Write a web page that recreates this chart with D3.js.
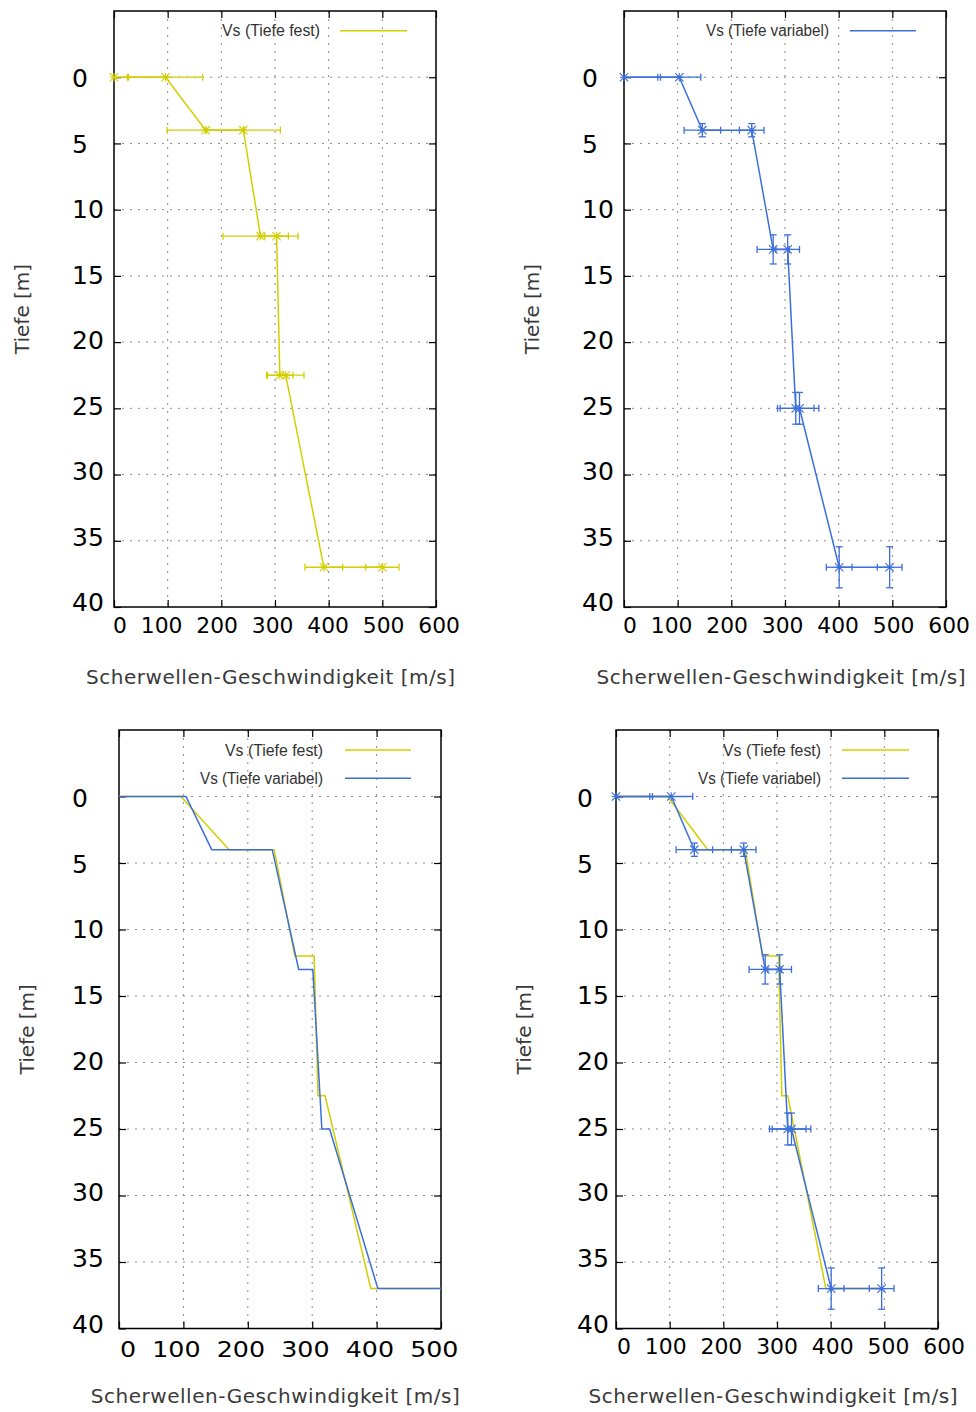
<!DOCTYPE html>
<html><head><meta charset="utf-8">
<script src="https://cdn.jsdelivr.net/npm/d3@7"></script>
<style>body{margin:0;background:#fff}svg text{white-space:pre}</style>
</head><body><svg id="c" width="976" height="1412" xmlns="http://www.w3.org/2000/svg"></svg>
<script>
// ---------- data ----------
const depthTicks = [0,5,10,15,20,25,30,35,40];
const xTicks600 = [0,100,200,300,400,500,600];
const xTicks500 = [0,100,200,300,400,500];
const labelFest = "Vs (Tiefe fest)";
const labelVar = "Vs (Tiefe variabel)";
const yTitle = "Tiefe [m]";
const xTitle = "Scherwellen-Geschwindigkeit [m/s]";

// Vs (Tiefe fest): depth [m], Vs [m/s], Vs error [m/s]
const festDepth = [0,0,4,4,12,12,22.5,22.5,37,37];
const festVs    = [0,96,171,241,273,303,309,320,391,500];
const festVsErr = [25,69,72,69,70,22,24.5,34,35,31];

// Vs (Tiefe variabel): depth, depth error, Vs, Vs error
const varDepth    = [0,0,4,4,13,13,25,25,37,37];
const varDepthErr = [0,0,0.5,0.5,1.1,1.1,1.2,1.2,1.55,1.55];
const varVs       = [0,103,146,238,278,305,320,327,401,495];
const varVsErr    = [68,40,34,23,30,22,34,36,24,23];

// profile of Vs (Tiefe variabel) shown in the lower-left panel
const varProfileDepth = [0,0,4,4,13,13,25,25,37,37];
const varProfileVs    = [0,104,144,238,279,301,315,327,402,500];

const YEL = "#d2cf00", BLU = "#3d6fdb";

const fest = festVs.map((v,i)=>({v, d:festDepth[i], ev:festVsErr[i], ed:0}));
const vari = varVs.map((v,i)=>({v, d:varDepth[i], ev:varVsErr[i], ed:varDepthErr[i]}));
const variProfile = varProfileVs.map((v,i)=>({v, d:varProfileDepth[i]}));

// ---------- layout ----------
const panels = [
  {l:114,r:436,t:11,b:607,ticks:xTicks600, xl0:113,xl1:460,xlb:633.3, ylx:72, ytx:22, xtc:270.5, xtb:684,
   legEnd:320, legL0:340, legL1:407, legY:30.7,
   series:[{data:fest,color:YEL,label:labelFest,err:"x"}]},
  {l:624,r:946,t:11,b:607,ticks:xTicks600, xl0:623,xl1:970,xlb:633.3, ylx:582, ytx:532, xtc:781, xtb:684,
   legEnd:829, legL0:850, legL1:916, legY:30.7,
   series:[{data:vari,color:BLU,label:labelVar,err:"xy"}]},
  {l:119,r:441,t:730,b:1328.5,ticks:xTicks500, xl0:120,xl1:458.5,xlb:1356.7, ylx:72, ytx:27, xtc:275.3, xtb:1403,
   legEnd:323, legL0:345, legL1:411, legY:750,
   series:[{data:fest,color:YEL,label:labelFest,err:null},{data:variProfile,color:BLU,label:labelVar,err:null}]},
  {l:616,r:938,t:730,b:1328.5,ticks:xTicks600, xl0:617,xl1:965,xlb:1353.5, ylx:577, ytx:524, xtc:773, xtb:1403,
   legEnd:821, legL0:842, legL1:909, legY:750,
   series:[{data:fest,color:YEL,label:labelFest,err:null},{data:vari,color:BLU,label:labelVar,err:"xy"}]}
];

const svg = d3.select("#c");

panels.forEach(p=>{
  const xmax = p.ticks[p.ticks.length-1];
  const x = d3.scaleLinear().domain([0,xmax]).range([p.l,p.r]);
  const y = d3.scaleLinear().domain([-5,40]).range([p.t,p.b]);
  // tick labels sit in a slightly compressed column, as in the reference
  const yLab = d3.scaleLinear().domain([0,40]).range([y(0)+1, y(40)-5]);
  const g = svg.append("g");

  // grid
  g.selectAll(null).data(p.ticks.filter(v=>v>0 && v<xmax)).enter().append("line")
    .attr("x1",d=>x(d)).attr("x2",d=>x(d)).attr("y1",p.t).attr("y2",p.b)
    .attr("stroke","#8c8c8c").attr("stroke-width",1).attr("stroke-dasharray","2,6");
  g.selectAll(null).data(depthTicks.filter(v=>v<40)).enter().append("line")
    .attr("y1",d=>y(d)).attr("y2",d=>y(d)).attr("x1",p.l).attr("x2",p.r)
    .attr("stroke","#8c8c8c").attr("stroke-width",1).attr("stroke-dasharray","2,6");

  // ticks (mirrored, inward)
  const tk = 7;
  const axes = [
    [d3.axisBottom(x).tickValues(p.ticks), `translate(0,${p.b})`],
    [d3.axisTop(x).tickValues(p.ticks), `translate(0,${p.t})`],
    [d3.axisLeft(y).tickValues(depthTicks), `translate(${p.l},0)`],
    [d3.axisRight(y).tickValues(depthTicks), `translate(${p.r},0)`]
  ];
  axes.forEach(([ax,tr])=>{
    const a = g.append("g").attr("transform",tr).call(ax.tickSize(-tk).tickFormat(""));
    a.select(".domain").remove();
    a.selectAll("line").attr("stroke","#000").attr("stroke-width",1.2);
  });

  // y tick labels
  g.selectAll(null).data(depthTicks).enter().append("text")
    .attr("x",p.ylx).attr("y",d=>yLab(d)).attr("dy","0.37em")
    .attr("font-family","DejaVu Sans").attr("font-size",25).attr("fill","#000")
    .text(d=>d);

  // x tick labels (single row as in reference)
  g.append("text").attr("x",p.xl0).attr("y",p.xlb)
    .attr("font-family","DejaVu Sans").attr("font-size",22).attr("fill","#000")
    .attr("textLength",p.xl1-p.xl0).attr("lengthAdjust","spacingAndGlyphs")
    .text(p.ticks.join("  "));

  // axis titles
  g.append("text").attr("transform",`translate(${p.ytx},${(p.t+p.b)/2}) rotate(-90)`)
    .attr("text-anchor","middle").attr("dy","0.35em")
    .attr("font-family","DejaVu Sans").attr("font-size",20).attr("fill","#3a3a3a")
    .text(yTitle);
  g.append("text").attr("x",p.xtc).attr("y",p.xtb).attr("text-anchor","middle")
    .attr("font-family","DejaVu Sans").attr("font-size",20).attr("fill","#3a3a3a")
    .attr("textLength",369).attr("lengthAdjust","spacing")
    .text(xTitle);

  // frame
  g.append("rect").attr("x",p.l).attr("y",p.t).attr("width",p.r-p.l).attr("height",p.b-p.t)
    .attr("fill","none").attr("stroke","#000").attr("stroke-width",1.5);

  // series
  const line = d3.line().x(d=>x(d.v)).y(d=>y(d.d));
  p.series.forEach((s,si)=>{
    const sg = g.append("g");
    if (s.err) {
      const cap = 3.5;
      s.data.forEach(d=>{
        const x0 = x(Math.max(0,d.v-d.ev)), x1 = x(Math.min(xmax,d.v+d.ev)), yy = y(d.d);
        sg.append("line").attr("x1",x0).attr("x2",x1).attr("y1",yy).attr("y2",yy)
          .attr("stroke",s.color).attr("stroke-width",1.3);
        if (d.v-d.ev>=0) sg.append("line").attr("x1",x0).attr("x2",x0).attr("y1",yy-cap).attr("y2",yy+cap)
          .attr("stroke",s.color).attr("stroke-width",1.3);
        if (d.v+d.ev<=xmax) sg.append("line").attr("x1",x1).attr("x2",x1).attr("y1",yy-cap).attr("y2",yy+cap)
          .attr("stroke",s.color).attr("stroke-width",1.3);
        if (s.err==="xy" && d.ed>0) {
          const y0 = y(d.d-d.ed), y1 = y(d.d+d.ed), xx = x(d.v);
          sg.append("line").attr("x1",xx).attr("x2",xx).attr("y1",y0).attr("y2",y1)
            .attr("stroke",s.color).attr("stroke-width",1.3);
          [y0,y1].forEach(yc=>sg.append("line").attr("x1",xx-cap).attr("x2",xx+cap).attr("y1",yc).attr("y2",yc)
            .attr("stroke",s.color).attr("stroke-width",1.3));
        }
        // asterisk marker
        const m = 4.2, cx = x(d.v);
        sg.append("path")
          .attr("d",`M${cx-m},${yy-m}L${cx+m},${yy+m}M${cx-m},${yy+m}L${cx+m},${yy-m}M${cx},${yy-m}L${cx},${yy+m}M${cx-m},${yy}L${cx+m},${yy}`)
          .attr("stroke",s.color).attr("stroke-width",1.1).attr("fill","none");
      });
    }
    sg.append("path").datum(s.data).attr("d",line)
      .attr("fill","none").attr("stroke",s.color).attr("stroke-width",1.5);

    // legend entry
    const ly = p.legY + si*28.3;
    g.append("text").attr("x",p.legEnd).attr("y",ly+5.5).attr("text-anchor","end")
      .attr("font-family","Liberation Sans").attr("font-size",16).attr("fill","#333")
      .attr("textLength", s.label===labelFest ? 98 : 123).attr("lengthAdjust","spacingAndGlyphs")
      .text(s.label);
    g.append("line").attr("x1",p.legL0).attr("x2",p.legL1).attr("y1",ly).attr("y2",ly)
      .attr("stroke",s.color).attr("stroke-width",1.5);
  });
});
</script></body></html>
